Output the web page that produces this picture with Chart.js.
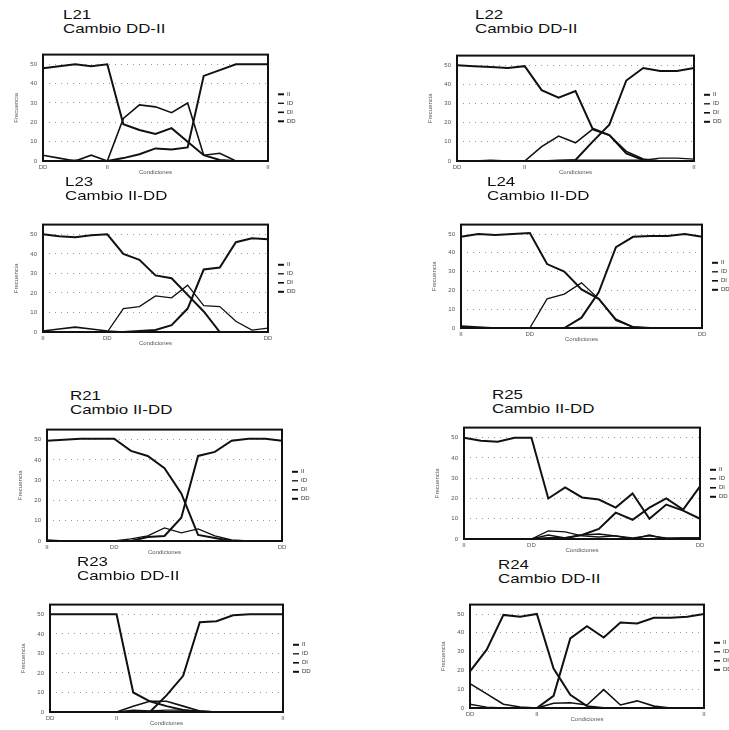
<!DOCTYPE html>
<html>
<head>
<meta charset="utf-8">
<script src="https://cdn.jsdelivr.net/npm/chart.js@4/dist/chart.umd.min.js"></script>
<style>
  body { margin: 0; background: #fff; width: 729px; height: 730px; position: relative; overflow: hidden; font-family: "Liberation Sans", Arial, sans-serif; }
  .t { position: absolute; font-size: 13px; line-height: 13px; color: #111; transform: scaleX(1.3); transform-origin: 0 0; white-space: nowrap; }
  canvas { position: absolute; }
</style>
</head>
<body>
<script>
// series order in every legend
const seriesNames = ['II', 'ID', 'DI', 'DD'];

// x tick labels (start, switch point, end)
const ticksDDII = ['DD', '', '', '', 'II', '', '', '', '', '', '', '', '', '', 'II'];
const ticksIIDD = ['II', '', '', '', 'DD', '', '', '', '', '', '', '', '', '', 'DD'];

// L21 - Cambio DD-II
const L21_II = [0, 0, 0, 0, 0, 1.5, 3.5, 6.5, 6, 7, 44, 47, 50, 50, 50];
const L21_ID = [0, 0, 0.5, 0, 0, 0, 0, 0, 0, 0, 0, 0, 0, 0, 0];
const L21_DI = [3, 1.5, 0, 3, 0, 22, 29, 28, 25, 30, 3, 4, 0, 0, 0];
const L21_DD = [48, 49, 50, 49, 50, 19, 16, 14, 17, 10, 3, 0.5, 0, 0, 0];

// L22 - Cambio DD-II
const L22_II = [0, 0, 0, 0, 0, 0, 0, 0.5, 10, 19, 42, 48.5, 47, 47, 48.5];
const L22_ID = [0, 0, 0.5, 0, 0, 0, 0.5, 0.5, 0.5, 0.5, 0.5, 0.5, 1.5, 1.5, 1];
const L22_DI = [0, 0, 0, 0, 0, 7.5, 13, 9.5, 16.5, 13.5, 5, 1, 0, 0, 0];
const L22_DD = [50, 49.5, 49, 48.5, 49.5, 37, 33, 36.5, 17, 13.5, 4, 0.5, 0, 0, 0];

// L23 - Cambio II-DD
const L23_II = [50, 49, 48.5, 49.5, 50, 40, 37, 29, 27.5, 19, 10.5, 0, 0, 0, 0];
const L23_ID = [0, 0, 0, 0, 0, 12, 13, 18.5, 17.5, 24, 13.5, 13, 5.5, 1, 2];
const L23_DI = [0.5, 1.5, 2.5, 1.5, 0.5, 0, 0, 0, 0, 0, 0, 0, 0, 0, 0];
const L23_DD = [0, 0, 0, 0, 0, 0, 0.5, 1, 3.5, 12, 32, 33, 46, 48, 47.5];

// L24 - Cambio II-DD
const L24_II = [48.5, 50, 49.5, 50, 50.5, 34, 30, 20.5, 15.5, 4.5, 0.5, 0, 0, 0, 0];
const L24_ID = [0, 0, 0, 0, 0, 15.5, 18, 24, 15.5, 4, 0.5, 0, 0, 0, 0];
const L24_DI = [1, 0.5, 0, 0, 0, 0, 0, 0.3, 0.3, 0.3, 0, 0, 0, 0, 0];
const L24_DD = [0, 0, 0, 0, 0, 0, 0, 5.5, 19, 43, 48.5, 49, 49, 50, 48.5];

// R21 - Cambio II-DD
const R21_II = [49.5, 50, 50.5, 50.5, 50.5, 44.5, 42, 36, 23.5, 3, 1.5, 0, 0, 0, 0];
const R21_ID = [0, 0, 0, 0, 0, 1, 2.5, 6.5, 4, 6, 2.5, 0.5, 0, 0, 0];
const R21_DI = [0.5, 0, 0, 0, 0, 0, 0, 0, 0, 0, 0, 0, 0, 0, 0];
const R21_DD = [0, 0, 0, 0, 0, 0, 2, 2.5, 11.5, 42, 44, 49.5, 50.5, 50.5, 49.5];

// R25 - Cambio II-DD
const R25_II = [50, 48.5, 48, 50, 50, 20, 25.5, 20.5, 19.5, 15.5, 22.5, 10, 17, 14, 10];
const R25_ID = [0, 0, 0, 0, 0, 4, 3.5, 1.5, 1, 1.5, 0.5, 1.5, 0.5, 0.5, 0.5];
const R25_DI = [0, 0, 0, 0, 0, 2, 0.5, 2, 2.5, 1.5, 0, 2, 0, 0.5, 0.5];
const R25_DD = [0, 0, 0, 0, 0, 0.5, 0.5, 2, 5, 13, 9.5, 15.5, 20, 14.5, 26];

// R23 - Cambio DD-II
const R23_II = [0, 0, 0, 0, 0, 0, 0, 8.5, 18.5, 46, 46.5, 49.5, 50, 50, 50];
const R23_ID = [0, 0, 0, 0, 0, 1, 0.5, 1, 1, 0.5, 0, 0, 0, 0, 0];
const R23_DI = [0, 0, 0, 0, 0, 3, 5.5, 5.5, 3, 0.5, 0, 0, 0, 0, 0];
const R23_DD = [50, 50, 50, 50, 50, 10, 5.5, 3, 1, 0, 0, 0, 0, 0, 0];

// R24 - Cambio DD-II
const R24_II = [0, 0, 0, 0, 0, 6.5, 37, 43.5, 37.5, 45.5, 45, 48, 48, 48.5, 50];
const R24_ID = [2, 0.5, 0, 0, 0, 0, 0, 0, 0, 0, 0, 0, 0, 0, 0];
const R24_DI = [13, 7.5, 2, 0.5, 0, 2.5, 2.8, 1.6, 9.8, 1.6, 3.8, 1, 0, 0, 0];
const R24_DD = [19.5, 31, 49.5, 48.5, 50, 21, 7, 1, 0, 0, 0, 0, 0, 0, 0];

// layout: plot box (x, y, w, h) and title position (tx, ty)
const panels = [
  { name: 'L21', sub: 'Cambio DD-II', x: 43,  y: 48,  w: 225, h: 113, tx: 63,  ty: 10,  labels: ticksDDII, data: [L21_II, L21_ID, L21_DI, L21_DD] },
  { name: 'L22', sub: 'Cambio DD-II', x: 457, y: 49,  w: 237, h: 112, tx: 475, ty: 10,  labels: ticksDDII, data: [L22_II, L22_ID, L22_DI, L22_DD] },
  { name: 'L23', sub: 'Cambio II-DD', x: 43,  y: 218, w: 225, h: 114, tx: 65,  ty: 177, labels: ticksIIDD, data: [L23_II, L23_ID, L23_DI, L23_DD] },
  { name: 'L24', sub: 'Cambio II-DD', x: 461, y: 218, w: 241, h: 110, tx: 487, ty: 177, labels: ticksIIDD, data: [L24_II, L24_ID, L24_DI, L24_DD] },
  { name: 'R21', sub: 'Cambio II-DD', x: 47,  y: 423, w: 235, h: 118, tx: 70,  ty: 391, labels: ticksIIDD, data: [R21_II, R21_ID, R21_DI, R21_DD] },
  { name: 'R25', sub: 'Cambio II-DD', x: 464, y: 421, w: 236, h: 118, tx: 492, ty: 390, labels: ticksIIDD, data: [R25_II, R25_ID, R25_DI, R25_DD] },
  { name: 'R23', sub: 'Cambio DD-II', x: 50,  y: 598, w: 233, h: 114, tx: 77,  ty: 557, labels: ticksDDII, data: [R23_II, R23_ID, R23_DI, R23_DD] },
  { name: 'R24', sub: 'Cambio DD-II', x: 470, y: 598, w: 234, h: 110, tx: 498, ty: 560, labels: ticksDDII, data: [R24_II, R24_ID, R24_DI, R24_DD] }
];

const lineWidths = [2, 1.3, 1.6, 2];
const YW = 30, XH = 15, PT = 3, LW = 42;
const small = { size: 6, family: '"Liberation Sans", Arial, sans-serif' };

// thick frame round the plot area
const framePlugin = {
  id: 'frame',
  afterDatasetsDraw(chart) {
    const { ctx, chartArea: a } = chart;
    ctx.save();
    ctx.strokeStyle = '#111';
    ctx.lineWidth = 2;
    ctx.strokeRect(a.left, a.top, a.right - a.left, a.bottom - a.top);
    ctx.restore();
  }
};

// small line legend to the right of the frame
const sideLegend = {
  id: 'sideLegend',
  afterDraw(chart) {
    const { ctx, chartArea: a } = chart;
    const sets = chart.data.datasets;
    const gap = 9;
    const y0 = (a.top + a.bottom) / 2 - gap * (sets.length - 1) / 2;
    ctx.save();
    ctx.font = '6px "Liberation Sans", Arial, sans-serif';
    ctx.textBaseline = 'middle';
    sets.forEach((ds, i) => {
      const y = y0 + i * gap;
      const x = a.right + 10;
      ctx.strokeStyle = ds.borderColor;
      ctx.lineWidth = ds.borderWidth;
      ctx.beginPath();
      ctx.moveTo(x, y);
      ctx.lineTo(x + 6, y);
      ctx.stroke();
      ctx.fillStyle = '#333';
      ctx.fillText(ds.label, x + 9, y);
    });
    ctx.restore();
  }
};

function addTitle(text, left, capTop) {
  const d = document.createElement('div');
  d.className = 't';
  d.textContent = text;
  d.style.left = left + 'px';
  d.style.top = (capTop - 2) + 'px';
  document.body.appendChild(d);
}

panels.forEach(p => {
  addTitle(p.name, p.tx, p.ty);
  addTitle(p.sub, p.tx, p.ty + 14);

  const c = document.createElement('canvas');
  c.width = YW + p.w + LW;
  c.height = PT + p.h + XH;
  c.style.left = (p.x - YW) + 'px';
  c.style.top = (p.y - PT) + 'px';
  document.body.appendChild(c);

  new Chart(c, {
    type: 'line',
    plugins: [framePlugin, sideLegend],
    data: {
      labels: p.labels,
      datasets: seriesNames.map((n, i) => ({
        label: n,
        data: p.data[i],
        borderColor: '#111',
        borderWidth: lineWidths[i],
        pointRadius: 0,
        tension: 0,
        fill: false
      }))
    },
    options: {
      responsive: false,
      animation: false,
      layout: { padding: { top: PT, right: LW, left: 0, bottom: 0 } },
      plugins: { legend: { display: false }, tooltip: { enabled: false } },
      scales: {
        x: {
          grid: { display: false, drawTicks: false },
          border: { display: false },
          ticks: { autoSkip: false, maxRotation: 0, font: small, color: '#555', padding: 3 },
          title: { display: true, text: 'Condiciones', font: small, color: '#555', padding: { top: 0, bottom: 0 } },
          afterFit: (s) => { s.height = XH; }
        },
        y: {
          min: 0,
          max: 55,
          grid: { color: '#999', drawTicks: false },
          border: { display: false, dash: [1, 5] },
          ticks: { stepSize: 10, includeBounds: false, font: small, color: '#555', padding: 6 },
          title: { display: true, text: 'Frecuencia', font: small, color: '#555', padding: 0 },
          afterFit: (s) => { s.width = YW; }
        }
      }
    }
  });
});
</script>
</body>
</html>
